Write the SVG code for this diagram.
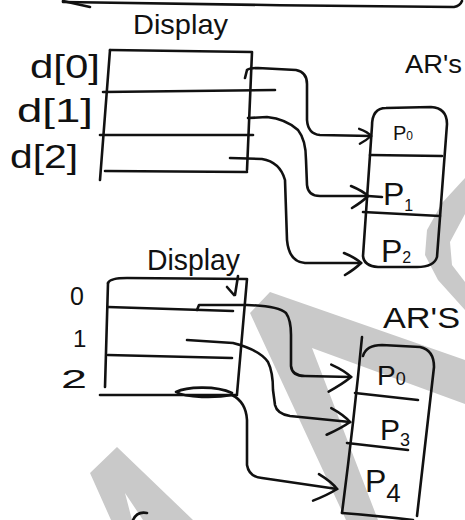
<svg xmlns="http://www.w3.org/2000/svg" width="465" height="520" viewBox="0 0 465 520">
  <title>Display array pointing to activation records</title>
  <style>
    .ink { fill: none; stroke: #111; stroke-width: 2.6; stroke-linecap: round; stroke-linejoin: round; }
    .lbl { font-family: "Liberation Sans", "DejaVu Sans", sans-serif; fill: #111; }
    .mark { fill: #c9c9c9; stroke: none; }
  </style>
  <defs>
    <marker id="ahs" viewBox="-16 -10 18 20" refX="0" refY="0" markerWidth="18" markerHeight="20" markerUnits="userSpaceOnUse" orient="auto">
      <path d="M -12 -7 Q -3 -4 0 0 Q -4 4 -11 8" fill="none" stroke="#111" stroke-width="2.4" stroke-linecap="round"/>
    </marker>
    <marker id="ah" viewBox="-22 -14 26 28" refX="0" refY="0" markerWidth="26" markerHeight="28" markerUnits="userSpaceOnUse" orient="auto">
      <path d="M -17 -10 Q -5 -5 0 0 Q -6 6 -16 12" fill="none" stroke="#111" stroke-width="2.6" stroke-linecap="round"/>
    </marker>
    <marker id="ahl" viewBox="-26 -17 30 34" refX="0" refY="0" markerWidth="30" markerHeight="34" markerUnits="userSpaceOnUse" orient="auto">
      <path d="M -20 -12 Q -6 -6 0 0 Q -8 7 -22 15" fill="none" stroke="#111" stroke-width="2.6" stroke-linecap="round"/>
    </marker>
  </defs>

  <rect width="465" height="520" fill="#fff"/>

  <!-- light grey background lettering -->
  <g id="backdrop">
    <polygon class="mark" points="465,178 442,203 427,230 425,255 438,280 465,310 465,282 452,265 450,242 465,214"/>
    <polygon class="mark" points="250,313 270,292 465,360 465,404 312,348 378,520 346,520"/>
    <polygon class="mark" points="90,473 117,447 193,520 143,520 125,493 132,520 111,520"/>
  </g>

  <!-- arrow along the top edge -->
  <g id="top-arrow">
    <path class="ink" d="M 63 2 C 180 4 330 6 454 7 Q 460 6 462 1"/>
    <path class="ink" d="M 63 1 L 90 7"/>
  </g>

  <!-- upper display array -->
  <g id="display-1">
    <text class="lbl" x="133" y="34" font-size="28" textLength="95" lengthAdjust="spacingAndGlyphs">Display</text>
    <path class="ink" d="M 110 50 L 100 180"/>
    <path class="ink" d="M 110 50 L 252 52 L 247 170"/>
    <path class="ink" d="M 103 92 L 275 90"/>
    <path class="ink" d="M 100 135 L 253 135"/>
    <path class="ink" d="M 105 171 L 247 172"/>
    <text class="lbl" x="30" y="78" font-size="34" textLength="70" lengthAdjust="spacingAndGlyphs">d[0]</text>
    <text class="lbl" x="17" y="122" font-size="34" textLength="76" lengthAdjust="spacingAndGlyphs">d[1]</text>
    <text class="lbl" x="10" y="168" font-size="34" textLength="68" lengthAdjust="spacingAndGlyphs">d[2]</text>
  </g>

  <!-- upper activation records -->
  <g id="ar-1">
    <text class="lbl" x="405" y="73" font-size="25" textLength="57" lengthAdjust="spacingAndGlyphs">AR's</text>
    <path class="ink" d="M 372 126 Q 372 108 386 108 L 431 107 Q 447 108 447 124 L 437 257 Q 434 267 417 267 L 378 267 Q 364 266 363 256 Z"/>
    <path class="ink" d="M 370 155 L 442 156"/>
    <path class="ink" d="M 363 212 L 440 216"/>
    <text class="lbl" x="393" y="140" font-size="20">P<tspan font-size="12">0</tspan></text>
    <text class="lbl" x="383" y="205" font-size="32">P<tspan font-size="16" dy="6">1</tspan></text>
    <text class="lbl" x="381" y="262" font-size="32">P<tspan font-size="16" dy="1">2</tspan></text>
  </g>

  <!-- lower display array -->
  <g id="display-2">
    <text class="lbl" x="147" y="270" font-size="30" textLength="93" lengthAdjust="spacingAndGlyphs">Display</text>
    <path class="ink" d="M 108 283 Q 110 278 127 278 L 247 279 L 237 394"/>
    <path class="ink" d="M 108 283 L 105 387"/>
    <path class="ink" d="M 108 307 L 233 311"/>
    <path class="ink" d="M 108 355 L 232 358"/>
    <path class="ink" d="M 100 395 L 237 395"/>
    <text class="lbl" x="70" y="305" font-size="25">0</text>
    <text class="lbl" x="73" y="347" font-size="24">1</text>
    <text class="lbl" x="61" y="388" font-size="25" textLength="26" lengthAdjust="spacingAndGlyphs">2</text>
  </g>

  <!-- lower activation records -->
  <g id="ar-2">
    <text class="lbl" x="383" y="328" font-size="30" textLength="77" lengthAdjust="spacingAndGlyphs">AR'S</text>
    <path class="ink" d="M 362 337 Q 354 420 342 513"/>
    <path class="ink" d="M 363 356 Q 366 345 382 345 L 420 347 Q 434 350 434 367 L 417 516"/>
    <path class="ink" d="M 342 513 Q 380 516 413 520"/>
    <path class="ink" d="M 355 393 L 418 400"/>
    <path class="ink" d="M 347 443 L 408 450"/>
    <text class="lbl" x="377" y="385" font-size="28">P<tspan font-size="18">0</tspan></text>
    <text class="lbl" x="380" y="440" font-size="30">P<tspan font-size="18" dy="6">3</tspan></text>
    <text class="lbl" x="365" y="492" font-size="32">P<tspan font-size="26" dy="10">4</tspan></text>
  </g>

  <!-- pointers from display entries to activation records -->
  <g id="connectors">
    <path class="ink" d="M 245 78 L 247 70 Q 249 68 258 68 L 296 70 Q 307 72 307 84 L 307 120 Q 308 134 320 135 L 371 136" marker-end="url(#ahs)"/>
    <path class="ink" d="M 248 118 L 267 117 Q 286 119 298 130 Q 306 140 306 160 L 307 185 Q 308 196 320 196 L 368 196" marker-end="url(#ah)"/>
    <path class="ink" d="M 368 196 L 382 197"/>
    <path class="ink" d="M 230 158 L 262 159 Q 280 162 285 180 L 287 240 Q 289 262 305 263 L 361 263" marker-end="url(#ah)"/>

    <path class="ink" d="M 238 276 L 235 295 M 227 287 L 234 295"/>
    <path class="ink" d="M 197 310 L 199 305 L 247 305 Q 278 306 286 313 Q 291 320 291 335 L 291 366 Q 292 376 305 376 L 351 377" marker-end="url(#ahl)"/>
    <path class="ink" d="M 187 340 L 233 343 Q 260 350 268 362 Q 273 372 273 390 L 275 405 Q 277 414 290 416 L 350 422" marker-end="url(#ahl)"/>
    <path class="ink" d="M 232 393 C 215 385 186 387 176 392 C 186 398 216 398 232 395 Q 246 402 247 420 L 247 465 Q 249 477 262 478 L 337 489" marker-end="url(#ahl)"/>
    <path class="ink" d="M 133 520 Q 137 511 147 513"/>
  </g>
</svg>
